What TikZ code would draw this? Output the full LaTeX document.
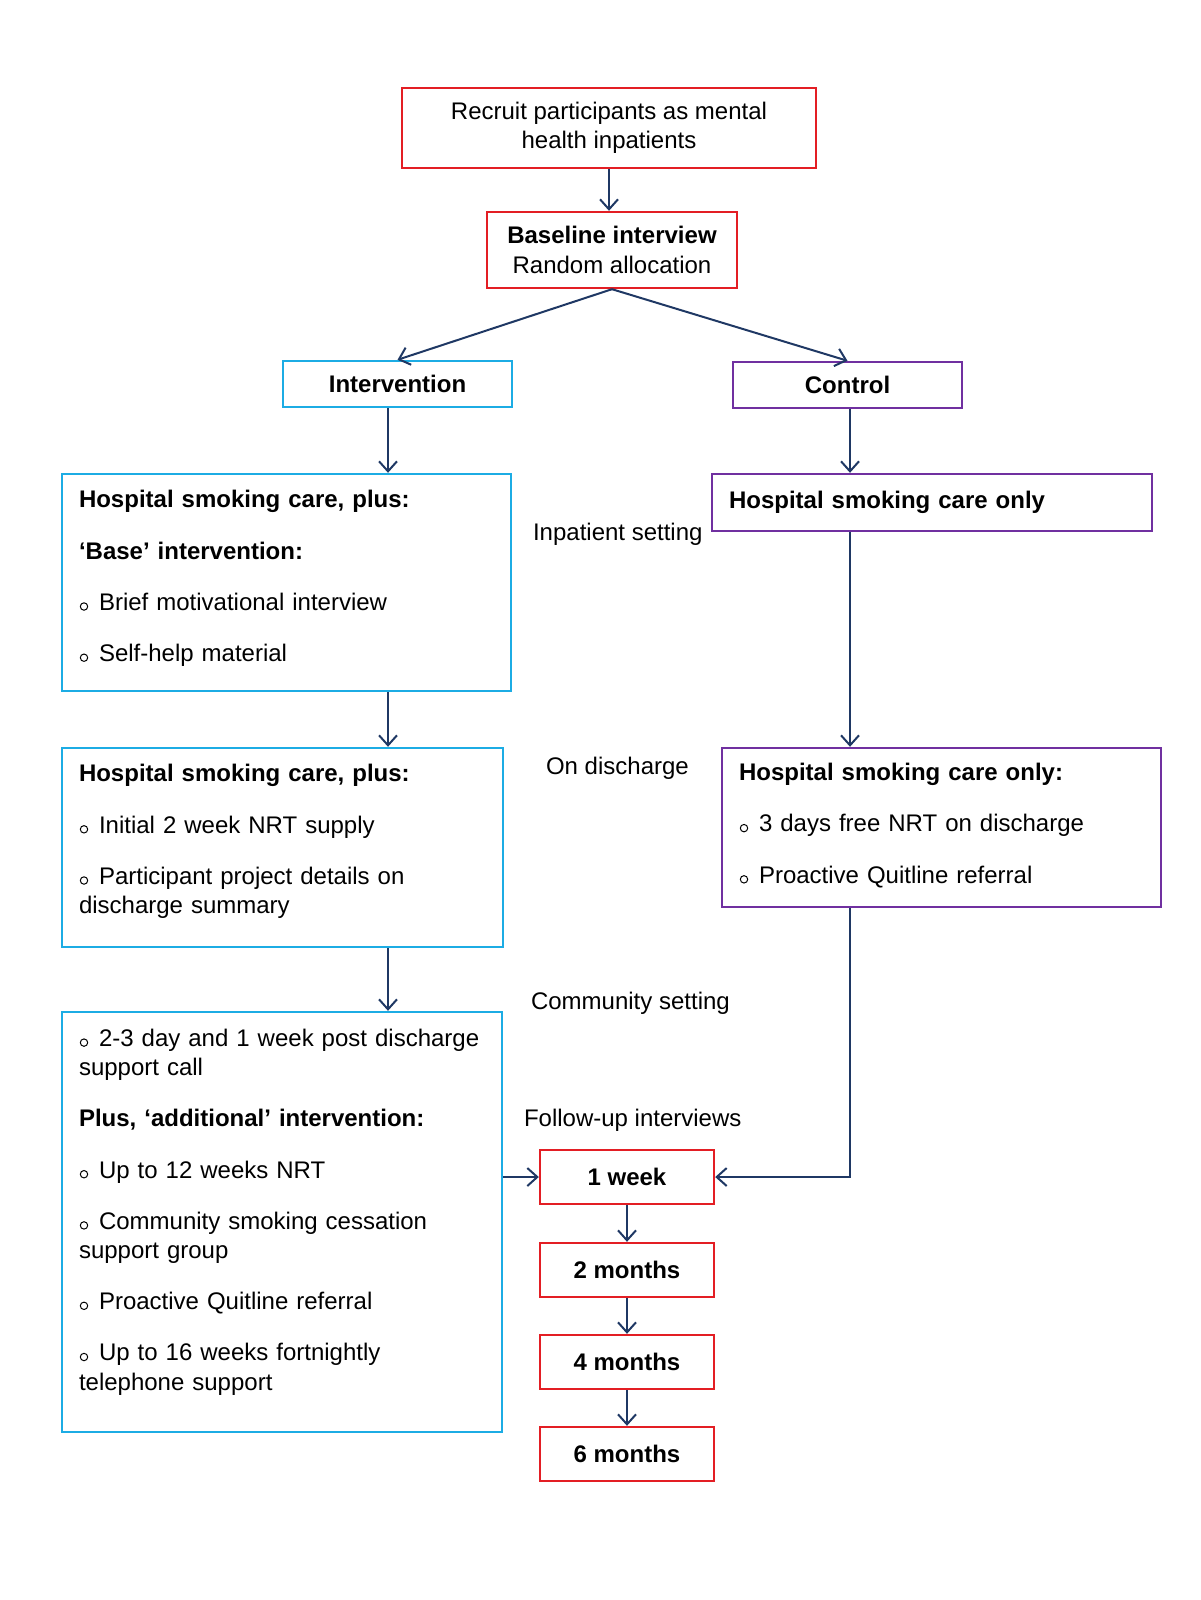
\documentclass[tikz,border=0pt]{standalone}
\usepackage{fontspec}
\setmainfont{Liberation Sans}
\usetikzlibrary{arrows.meta}
\definecolor{cred}{RGB}{227,30,36}
\definecolor{cblue}{RGB}{28,172,228}
\definecolor{cpurple}{RGB}{112,48,160}
\definecolor{cnavy}{RGB}{31,56,100}
\newcommand{\bul}{\makebox[10pt][l]{\hspace{0.4pt}\tikz[baseline=0pt]\draw[line width=0.5pt] (0,1.9pt) circle[radius=1.85pt];}}
\newcommand{\padbottom}[1]{\par\vspace{#1}\hrule height 0pt}
\begin{document}
\begin{tikzpicture}[x=0.5pt,y=-0.5pt,
  every node/.style={font=\fontsize{12}{14.6}\selectfont},
  redbox/.style={draw=cred, line width=1.2pt, align=center, inner sep=0pt},
  bluebox/.style={draw=cblue, line width=1.2pt, align=left, inner xsep=8.5pt, inner ysep=0pt},
  purplebox/.style={draw=cpurple, line width=1.2pt, align=left, inner xsep=8.5pt, inner ysep=0pt},
  flow/.style={draw=cnavy, line width=1pt, -{Straight Barb[length=5pt,width=9pt]}}]
\useasboundingbox (0,0) rectangle (1200,1600);

	% top of the trial
	\node[redbox, minimum width=207pt, minimum height=40pt] (recruit) at (609,128) {Recruit participants as mental\\health inpatients};
	\node[redbox, minimum width=125pt, minimum height=38pt] (base) at (612,250) {\textbf{Baseline interview}\\Random allocation};
	\node[draw=cblue, line width=1.2pt, minimum width=114.5pt, minimum height=23pt] (interv) at (397.5,384) {\textbf{Intervention}};
	\node[draw=cpurple, line width=1.2pt, minimum width=114.5pt, minimum height=23pt] (ctrl) at (847.5,385) {\textbf{Control}};

	% intervention arm
	\node[bluebox, text width=207.5pt, minimum height=108.5pt] (hospa) at (286.5,582.5) {\textbf{Hospital smoking care, plus:}\\[11pt]
		\textbf{‘Base’ intervention:}\\[11pt]
		\bul Brief motivational interview\\[11pt]
		\bul Self-help material\padbottom{4pt}};
	\node[bluebox, text width=203.5pt, minimum height=99.5pt] (disca) at (282.5,847.5) {\textbf{Hospital smoking care, plus:}\\[11pt]
		\bul Initial 2 week NRT supply\\[11pt]
		\bul Participant project details on\\discharge summary\padbottom{6pt}};
	\node[bluebox, text width=203pt, minimum height=210pt] (comm) at (282,1222) {\bul 2-3 day and 1 week post discharge\\support call\\[11pt]
		\textbf{Plus, ‘additional’ intervention:}\\[11pt]
		\bul Up to 12 weeks NRT\\[11pt]
		\bul Community smoking cessation\\support group\\[11pt]
		\bul Proactive Quitline referral\\[11pt]
		\bul Up to 16 weeks fortnightly\\telephone support\padbottom{10pt}};

	% control arm
	\node[purplebox, text width=203pt, minimum height=28.5pt] (hospc) at (932,502.5) {\textbf{Hospital smoking care only}};
	\node[purplebox, text width=202.5pt, minimum height=79.5pt] (discc) at (941.5,827.5) {\textbf{Hospital smoking care only:}\\[11pt]
		\bul 3 days free NRT on discharge\\[11pt]
		\bul Proactive Quitline referral\padbottom{2pt}};

	% follow-up
	\node[redbox, minimum width=87pt, minimum height=27pt] (wk1) at (627,1177) {\textbf{1 week}};
	\node[redbox, minimum width=87pt, minimum height=27pt] (mo2) at (627,1270) {\textbf{2 months}};
	\node[redbox, minimum width=87pt, minimum height=27pt] (mo4) at (627,1362) {\textbf{4 months}};
	\node[redbox, minimum width=87pt, minimum height=27pt] (mo6) at (627,1454) {\textbf{6 months}};

	% settings
	\node[anchor=west] (inpat) at (526,534) {Inpatient setting};
	\node[anchor=west] (ondisc) at (539,768) {On discharge};
	\node[anchor=west] (commset) at (524,1003) {Community setting};
	\node[anchor=west] (fuint) at (517,1120) {Follow-up interviews};

	\coordinate (llane) at (388,0);
	\coordinate (rlane) at (850,0);

	\draw[flow] (recruit.south) -- (recruit.south |- base.north);
	\draw[flow] (base.south) -- (interv.north);
	\draw[flow] (base.south) -- (ctrl.north);
	\draw[flow] (interv.south -| llane) -- (hospa.north -| llane);
	\draw[flow] (hospa.south -| llane) -- (disca.north -| llane);
	\draw[flow] (disca.south -| llane) -- (comm.north -| llane);
	\draw[flow] (ctrl.south -| rlane) -- (hospc.north -| rlane);
	\draw[flow] (hospc.south -| rlane) -- (discc.north -| rlane);
	\draw[flow] (discc.south -| rlane) |- (wk1.east);
	\draw[flow] (comm.east |- wk1.west) -- (wk1.west);
	\draw[flow] (wk1) -- (mo2);
	\draw[flow] (mo2) -- (mo4);
	\draw[flow] (mo4) -- (mo6);
\end{tikzpicture}
\end{document}
